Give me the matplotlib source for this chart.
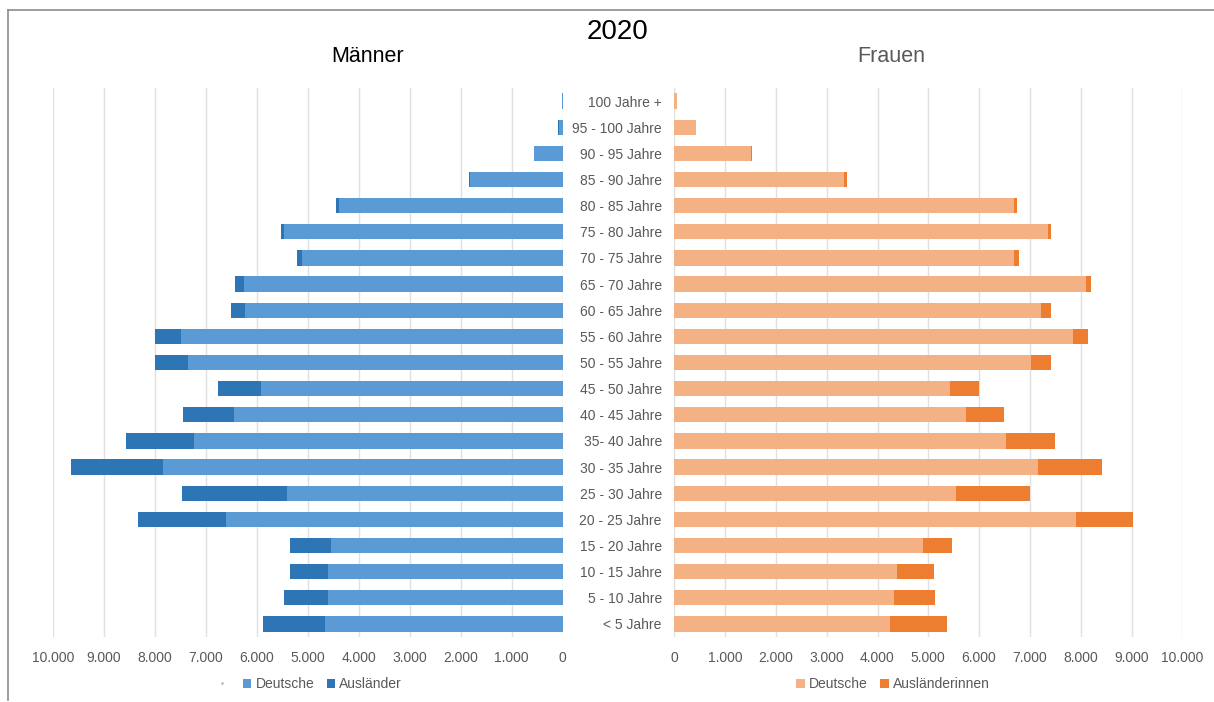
import matplotlib
matplotlib.use("Agg")
import matplotlib.pyplot as plt
import numpy as np
from matplotlib.lines import Line2D
from matplotlib.patches import Patch

plt.rcParams['font.family'] = ['Liberation Sans', 'DejaVu Sans']

categories = ["100 Jahre +", "95 - 100 Jahre", "90 - 95 Jahre", "85 - 90 Jahre",
              "80 - 85 Jahre", "75 - 80 Jahre", "70 - 75 Jahre", "65 - 70 Jahre",
              "60 - 65 Jahre", "55 - 60 Jahre", "50 - 55 Jahre", "45 - 50 Jahre",
              "40 - 45 Jahre", "35- 40 Jahre", "30 - 35 Jahre", "25 - 30 Jahre",
              "20 - 25 Jahre", "15 - 20 Jahre", "10 - 15 Jahre", "5 - 10 Jahre",
              "< 5 Jahre"]

maenner_deutsche = [15, 80, 560, 1810, 4390, 5470, 5110, 6250, 6230, 7490, 7340,
                    5910, 6450, 7240, 7840, 5410, 6600, 4540, 4610, 4600, 4660]
maenner_auslaender = [5, 5, 5, 25, 50, 55, 105, 180, 265, 500, 660,
                      850, 990, 1320, 1810, 2060, 1720, 800, 730, 870, 1210]
frauen_deutsche = [45, 430, 1510, 3350, 6680, 7365, 6680, 8095, 7220, 7840, 7020,
                   5435, 5750, 6530, 7160, 5540, 7900, 4890, 4390, 4330, 4245]
frauen_auslaender = [5, 5, 25, 40, 70, 60, 100, 100, 200, 295, 400,
                     560, 740, 970, 1265, 1470, 1130, 580, 730, 810, 1125]

xticks = [0, 1000, 2000, 3000, 4000, 5000, 6000, 7000, 8000, 9000, 10000]
xticklabels = ["0", "1.000", "2.000", "3.000", "4.000", "5.000", "6.000",
               "7.000", "8.000", "9.000", "10.000"]

W, H = 1214, 702
fig = plt.figure(figsize=(W / 100, H / 100), dpi=100)
fig.patch.set_facecolor("white")

c_md, c_ma = "#5B9BD5", "#2E75B6"
c_fd, c_fa = "#F4B183", "#ED7D31"
grid_c = "#E0E0E0"
txt_c = "#595959"

y_top_px, y_bot_px = 88, 637
ax_b = (H - y_bot_px) / H
ax_h = (y_bot_px - y_top_px) / H

axL = fig.add_axes([52.8 / W, ax_b, (562.6 - 52.8) / W, ax_h])
axR = fig.add_axes([674.3 / W, ax_b, 508.0 / W, ax_h])

n = len(categories)
ypos = np.arange(n)[::-1]
bh = 0.58

axL.barh(ypos, maenner_deutsche, height=bh, color=c_md, edgecolor="none", zorder=3)
axL.barh(ypos, maenner_auslaender, left=maenner_deutsche, height=bh, color=c_ma,
         edgecolor="none", zorder=3)
axR.barh(ypos, frauen_deutsche, height=bh, color=c_fd, edgecolor="none", zorder=3)
axR.barh(ypos, frauen_auslaender, left=frauen_deutsche, height=bh, color=c_fa,
         edgecolor="none", zorder=3)

for ax in (axL, axR):
    ax.set_ylim(-0.5, n - 0.5)
    ax.set_xticks(xticks)
    ax.set_xticklabels(xticklabels, fontsize=10, color=txt_c)
    ax.tick_params(axis="x", length=0, pad=10)
    ax.grid(axis="x", color=grid_c, linewidth=1, zorder=0)
    for s in ax.spines.values():
        s.set_visible(False)
    ax.set_facecolor("none")

axL.set_xlim(10000, 0)
axL.set_yticks([])
axR.set_xlim(0, 10000)
axR.set_yticks(ypos)
axR.set_yticklabels(categories, fontsize=10, color=txt_c)
axR.tick_params(axis="y", length=0, pad=9)

fig.text(617 / W, 1 - 32 / H, "2020", ha="center", va="center", fontsize=20, color="black")
fig.text(368 / W, 1 - 57 / H, "Männer", ha="center", va="center", fontsize=15.5, color="black")
fig.text(891 / W, 1 - 57 / H, "Frauen", ha="center", va="center", fontsize=15.5, color=txt_c)

hL = [Line2D([], [], marker=".", markersize=2, linestyle="none", color="#BFBFBF"),
      Patch(facecolor=c_md), Patch(facecolor=c_ma)]
legL = fig.legend(hL, ["", "Deutsche", "Ausländer"], loc="center",
                  bbox_to_anchor=(310 / W, 1 - 684 / H), ncol=3, frameon=False,
                  fontsize=10, handlelength=0.6, handleheight=0.6, handletextpad=0.3,
                  columnspacing=0.9, labelcolor=txt_c)
hR = [Patch(facecolor=c_fd), Patch(facecolor=c_fa)]
legR = fig.legend(hR, ["Deutsche", "Ausländerinnen"], loc="center",
                  bbox_to_anchor=(893 / W, 1 - 684 / H), ncol=2, frameon=False,
                  fontsize=10, handlelength=0.6, handleheight=0.6, handletextpad=0.3,
                  columnspacing=0.9, labelcolor=txt_c)

frame_c = "#8C8C8C"
fig.add_artist(Line2D([8 / W, 1.0], [1 - 10 / H, 1 - 10 / H], color=frame_c, linewidth=1.2,
                      transform=fig.transFigure))
fig.add_artist(Line2D([8 / W, 8 / W], [1 - 10 / H, 1 - 700 / H], color=frame_c, linewidth=1.2,
                      transform=fig.transFigure))

fig.savefig("out.png", dpi=100)
